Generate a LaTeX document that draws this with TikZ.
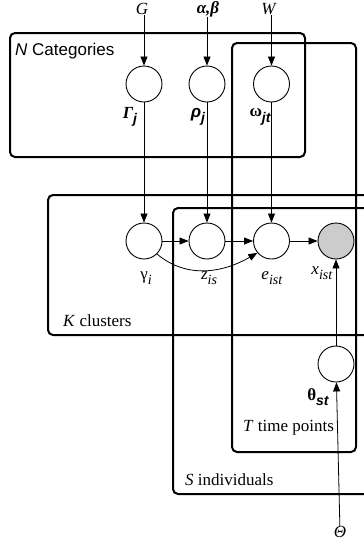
\documentclass[tikz,border=0pt]{standalone}
\usepackage{fontspec}
\setmainfont{Liberation Serif}
\setsansfont{Liberation Sans}
\usetikzlibrary{arrows.meta}
% lowered subscript in text mode
\newcommand{\lsub}[1]{\raisebox{-5.5pt}{\fontsize{14}{14}\selectfont #1}}
\newcommand{\ssub}[1]{\lsub{\sffamily\bfseries\itshape #1}}

\begin{document}
\begin{tikzpicture}[x=1pt,y=-1pt,
  var/.style={circle,draw,line width=0.9pt,minimum size=36pt,inner sep=0pt,fill=white},
  obs/.style={var,fill=black!20},
  plate/.style={draw,line width=2pt,rounded corners=5pt},
  lbl/.style={font=\fontsize{17}{20}\selectfont,inner sep=0pt},
  edge/.style={-{Triangle[length=9pt,width=7pt]},line width=0.8pt},
]
\clip (0,0) rectangle (364,544);
\fill[white] (0,0) rectangle (364,544);

% plates
\draw[plate] (10,33) rectangle (305,157);
\draw[plate] (232,43) rectangle (356,452);
\draw[plate] (48,195) rectangle (390,335);
\draw[plate] (173,208) rectangle (390,494);

\node[lbl,anchor=west] (Ntxt) at (15,51) {\sffamily\textit{N} Categories};
\node[lbl,anchor=west] (Ktxt) at (63,321) {\textit{K} clusters};
\node[lbl,anchor=west] (Ttxt) at (243,428) {\textit{T} time points};
\node[lbl,anchor=west] (Stxt) at (185,480) {\textit{S} individuals};

% hyperparameters
\node[lbl] (G) at (142,9) {\textit{G}};
\node[lbl] (AB) at (208,9) {\textbf{\textit{α,β}}};
\node[lbl] (W) at (269,9) {\textit{W}};
\node[lbl] (Th) at (340,532) {\textit{Θ}};

% random variables
\node[var] (Gam) at (144,84) {};
\node[var] (rho) at (207,84) {};
\node[var] (om) at (271.5,84) {};
\node[var] (gam) at (144,241) {};
\node[var] (z) at (207,241) {};
\node[var] (e) at (271.5,241) {};
\node[obs] (x) at (336,241) {};
\node[var] (th) at (336,364) {};

% variable names
\node[lbl] (GamL) at (130,117) {\textbf{\textit{Γ}}\ssub{j}};
\node[lbl] (rhoL) at (198,117) {\sffamily\bfseries\itshape ρ\ssub{j}};
\node[lbl] (omL) at (260,117) {\textbf{ω}\ssub{jt}};
\node[lbl] (gamL) at (146,278) {γ\lsub{\textit{i}}};
\node[lbl] (zL) at (209,278) {\textit{z}\lsub{\textit{is}}};
\node[lbl] (eL) at (272,278) {\textit{e}\lsub{\textit{ist}}};
\node[lbl] (xL) at (322,273) {\textit{x}\lsub{\textit{ist}}};
\node[lbl] (thL) at (318,397) {\textbf{θ}\ssub{st}};

% dependencies (prior arrows run straight down into their variables)
\draw[edge] (Gam.north |- G.south) -- (Gam);
\draw[edge] (rho.north |- AB.south) -- (rho);
\draw[edge] (om.north |- W.south) -- (om);
\draw[edge] (Gam) -- (gam);
\draw[edge] (rho) -- (z);
\draw[edge] (om) -- (e);
\draw[edge] (gam) -- (z);
\draw[edge] (z) -- (e);
\draw[edge] (e) -- (x);
\draw[edge] (gam.-45) to[out=-40,in=-150] (e.-140);
\draw[edge] (th) -- (x);
\draw[edge] (Th) -- (th);
\end{tikzpicture}
\end{document}
